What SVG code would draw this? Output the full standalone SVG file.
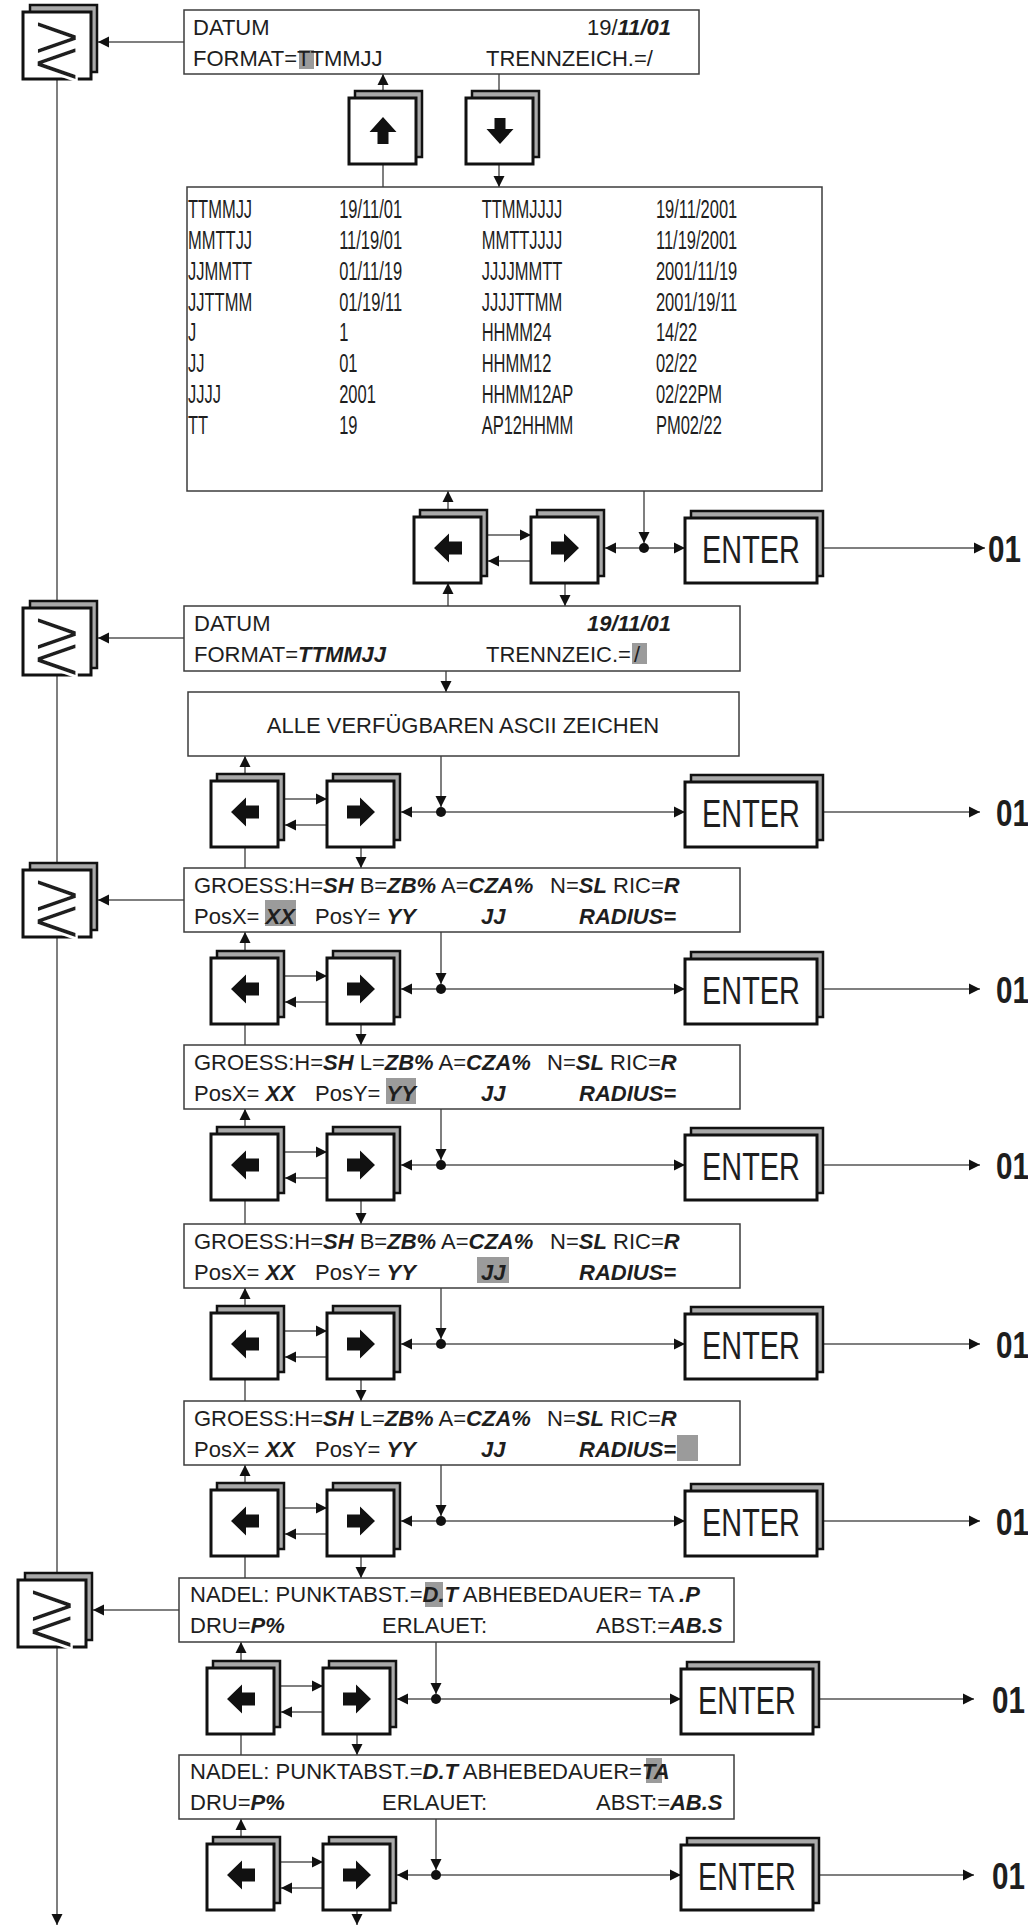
<svg xmlns="http://www.w3.org/2000/svg" width="1028" height="1925" viewBox="0 0 1028 1925">
<style>
.box{fill:#fff;stroke:#3c3c3c;stroke-width:1.5}
.bk{fill:#a9a9a9;stroke:#111;stroke-width:2.5}
.fr{fill:#fff;stroke:#111;stroke-width:3}
.t{font-family:"Liberation Sans",Arial,sans-serif;font-size:22px;fill:#1e1e1e}
.tb{font-family:"Liberation Sans",Arial,sans-serif;font-size:25px;fill:#1e1e1e}
.bi{font-weight:bold;font-style:italic}
.hl{fill:#9b9b9b}
.ico{fill:#111}
.ln{stroke:#555;stroke-width:1.5;fill:none}
.ar{marker-end:url(#a)}
.ent{font-family:"Liberation Sans",Arial,sans-serif;font-size:39px;fill:#1e1e1e}
.o1{font-family:"Liberation Sans",Arial,sans-serif;font-size:37px;font-weight:bold;fill:#1e1e1e}
.ge{font-family:"DejaVu Sans",sans-serif;font-size:56px;font-weight:200;fill:#1e1e1e;stroke:#fff;stroke-width:2}
</style>
<defs>
<marker id="a" markerUnits="userSpaceOnUse" markerWidth="12" markerHeight="12" refX="11" refY="6" orient="auto"><path d="M0,0.5 L11,6 L0,11.5 z" fill="#111"/></marker>
<g id="btn"><rect class="bk" x="6" y="-7" width="67" height="66"/><rect class="fr" x="0" y="0" width="67" height="66"/></g>
<g id="ebtn"><rect class="bk" x="6" y="-7" width="132" height="65"/><rect class="fr" x="0" y="0" width="132" height="65"/></g>
<g id="gbtn"><rect class="bk" x="7" y="-7" width="67" height="67"/><rect class="fr" x="0" y="0" width="68" height="67"/></g>
<polygon id="iL" class="ico" points="-14,0 1,-14.5 1,-6.5 14,-6.5 14,6.5 1,6.5 1,14.5"/>
<polygon id="iR" class="ico" points="14,0 -1,-14.5 -1,-6.5 -14,-6.5 -14,6.5 -1,6.5 -1,14.5"/>
<polygon id="iU" class="ico" points="0,-14 -13.5,1 -5.5,1 -5.5,13 5.5,13 5.5,1 13.5,1"/>
<polygon id="iD" class="ico" points="0,13 -13.5,-2 -5.5,-2 -5.5,-13 5.5,-13 5.5,-2 13.5,-2"/>
</defs>
<rect width="1028" height="1925" fill="#fff"/>

<g id="connectors">
<path class="ln ar" d="M184,42 H98"/>
<path class="ln ar" d="M184,638 H98"/>
<path class="ln ar" d="M184,900 H98"/>
<path class="ln ar" d="M179,1610 H93"/>
<path class="ln" d="M57,79 V601 M57,675 V863 M57,937 V1573"/>
<path class="ln ar" d="M57,1647 V1925"/>
<path class="ln ar" d="M383,91 V74"/>
<path class="ln" d="M383,164 V187 M499,74 V91"/>
<path class="ln ar" d="M499,164 V187"/>
<path class="ln ar" d="M446,671 V692"/>
<!-- row 1 -->
<path class="ln ar" d="M487,535 H531"/>
<path class="ln ar" d="M531,561 H488"/>
<path class="ln ar" d="M644,548 H605"/>
<path class="ln ar" d="M644,548 H685"/>
<path class="ln ar" d="M644,491 V543"/>
<path class="ln ar" d="M823,548 H985"/>
<path class="ln ar" d="M448,510 V491"/>
<path class="ln ar" d="M448,606 V583"/>
<path class="ln ar" d="M565,583 V606"/>
<circle cx="644" cy="548" r="5" fill="#111"/>
<!-- row 2 -->
<path class="ln ar" d="M284,799 H327"/>
<path class="ln ar" d="M327,825 H285"/>
<path class="ln ar" d="M441,812 H401"/>
<path class="ln ar" d="M441,812 H685"/>
<path class="ln ar" d="M441,756 V807"/>
<path class="ln ar" d="M823,812 H980"/>
<path class="ln ar" d="M245,774 V756"/>
<path class="ln" d="M245,847 V868"/>
<path class="ln ar" d="M361,847 V868"/>
<circle cx="441" cy="812" r="5" fill="#111"/>
<!-- row 3 -->
<path class="ln ar" d="M284,976 H327"/>
<path class="ln ar" d="M327,1002 H285"/>
<path class="ln ar" d="M441,989 H401"/>
<path class="ln ar" d="M441,989 H685"/>
<path class="ln ar" d="M441,932 V984"/>
<path class="ln ar" d="M823,989 H980"/>
<path class="ln ar" d="M245,951 V932"/>
<path class="ln" d="M245,1024 V1045"/>
<path class="ln ar" d="M361,1024 V1045"/>
<circle cx="441" cy="989" r="5" fill="#111"/>
<!-- row 4 -->
<path class="ln ar" d="M284,1152 H327"/>
<path class="ln ar" d="M327,1178 H285"/>
<path class="ln ar" d="M441,1165 H401"/>
<path class="ln ar" d="M441,1165 H685"/>
<path class="ln ar" d="M441,1109 V1160"/>
<path class="ln ar" d="M823,1165 H980"/>
<path class="ln ar" d="M245,1127 V1109"/>
<path class="ln" d="M245,1200 V1224"/>
<path class="ln ar" d="M361,1200 V1224"/>
<circle cx="441" cy="1165" r="5" fill="#111"/>
<!-- row 5 -->
<path class="ln ar" d="M284,1331 H327"/>
<path class="ln ar" d="M327,1357 H285"/>
<path class="ln ar" d="M441,1344 H401"/>
<path class="ln ar" d="M441,1344 H685"/>
<path class="ln ar" d="M441,1288 V1339"/>
<path class="ln ar" d="M823,1344 H980"/>
<path class="ln ar" d="M245,1306 V1288"/>
<path class="ln" d="M245,1379 V1401"/>
<path class="ln ar" d="M361,1379 V1401"/>
<circle cx="441" cy="1344" r="5" fill="#111"/>
<!-- row 6 -->
<path class="ln ar" d="M284,1508 H327"/>
<path class="ln ar" d="M327,1534 H285"/>
<path class="ln ar" d="M441,1521 H401"/>
<path class="ln ar" d="M441,1521 H685"/>
<path class="ln ar" d="M441,1465 V1516"/>
<path class="ln ar" d="M823,1521 H980"/>
<path class="ln ar" d="M245,1483 V1465"/>
<path class="ln" d="M245,1556 V1578"/>
<path class="ln ar" d="M361,1556 V1578"/>
<circle cx="441" cy="1521" r="5" fill="#111"/>
<!-- row 7 -->
<path class="ln ar" d="M280,1686 H323"/>
<path class="ln ar" d="M323,1712 H281"/>
<path class="ln ar" d="M436,1699 H397"/>
<path class="ln ar" d="M436,1699 H681"/>
<path class="ln ar" d="M436,1642 V1694"/>
<path class="ln ar" d="M819,1699 H974"/>
<path class="ln ar" d="M241,1661 V1642"/>
<path class="ln" d="M241,1734 V1755"/>
<path class="ln ar" d="M357,1734 V1755"/>
<circle cx="436" cy="1699" r="5" fill="#111"/>
<!-- row 8 -->
<path class="ln ar" d="M280,1862 H323"/>
<path class="ln ar" d="M323,1888 H281"/>
<path class="ln ar" d="M436,1875 H397"/>
<path class="ln ar" d="M436,1875 H681"/>
<path class="ln ar" d="M436,1819 V1870"/>
<path class="ln ar" d="M819,1875 H974"/>
<path class="ln ar" d="M241,1837 V1819"/>
<path class="ln ar" d="M357,1910 V1925"/>
<circle cx="436" cy="1875" r="5" fill="#111"/>
</g>

<!-- escape keys -->
<g id="esc1"><use href="#gbtn" x="23" y="12"/><text class="ge" transform="translate(57 46) scale(1.15 1.4)" y="20" text-anchor="middle">≷</text></g>
<g id="esc2"><use href="#gbtn" x="23" y="608"/><text class="ge" transform="translate(57 642) scale(1.15 1.4)" y="20" text-anchor="middle">≷</text></g>
<g id="esc3"><use href="#gbtn" x="23" y="870"/><text class="ge" transform="translate(57 904) scale(1.15 1.4)" y="20" text-anchor="middle">≷</text></g>
<g id="esc4"><use href="#gbtn" x="18" y="1580"/><text class="ge" transform="translate(52 1614) scale(1.15 1.4)" y="20" text-anchor="middle">≷</text></g>

<!-- DATUM 1 -->
<g id="datum1">
<rect class="box" x="184" y="10" width="515" height="64"/>
<rect class="hl" x="299" y="50" width="15" height="19"/>
<text class="t" x="193" y="35">DATUM</text>
<text class="t" x="671" y="35" text-anchor="end">19/<tspan class="bi">11/01</tspan></text>
<text class="t" x="193" y="66">FORMAT=TTMMJJ</text>
<text class="t" x="486" y="66">TRENNZEICH.=/</text>
</g>

<g id="key_up"><use href="#btn" x="349" y="98"/><use href="#iU" x="383" y="131"/></g>
<g id="key_down"><use href="#btn" x="466" y="98"/><use href="#iD" x="500" y="131"/></g>

<!-- table -->
<g id="formats">
<rect class="box" x="187" y="187" width="635" height="304"/>
<g transform="translate(188 0) scale(0.66 1)">
<text class="tb" y="218"><tspan x="0">TTMMJJ</tspan><tspan x="229">19/11/01</tspan><tspan x="445">TTMMJJJJ</tspan><tspan x="709">19/11/2001</tspan></text>
<text class="tb" y="249"><tspan x="0">MMTTJJ</tspan><tspan x="229">11/19/01</tspan><tspan x="445">MMTTJJJJ</tspan><tspan x="709">11/19/2001</tspan></text>
<text class="tb" y="280"><tspan x="0">JJMMTT</tspan><tspan x="229">01/11/19</tspan><tspan x="445">JJJJMMTT</tspan><tspan x="709">2001/11/19</tspan></text>
<text class="tb" y="311"><tspan x="0">JJTTMM</tspan><tspan x="229">01/19/11</tspan><tspan x="445">JJJJTTMM</tspan><tspan x="709">2001/19/11</tspan></text>
<text class="tb" y="341"><tspan x="0">J</tspan><tspan x="229">1</tspan><tspan x="445">HHMM24</tspan><tspan x="709">14/22</tspan></text>
<text class="tb" y="372"><tspan x="0">JJ</tspan><tspan x="229">01</tspan><tspan x="445">HHMM12</tspan><tspan x="709">02/22</tspan></text>
<text class="tb" y="403"><tspan x="0">JJJJ</tspan><tspan x="229">2001</tspan><tspan x="445">HHMM12AP</tspan><tspan x="709">02/22PM</tspan></text>
<text class="tb" y="434"><tspan x="0">TT</tspan><tspan x="229">19</tspan><tspan x="445">AP12HHMM</tspan><tspan x="709">PM02/22</tspan></text>
</g>
</g>

<!-- row 1 keys -->
<g id="r1_left"><use href="#btn" x="414" y="517"/><use href="#iL" x="448" y="548"/></g>
<g id="r1_right"><use href="#btn" x="531" y="517"/><use href="#iR" x="565" y="548"/></g>
<g id="r1_enter"><use href="#ebtn" x="685" y="518"/><text class="ent" transform="translate(751 563) scale(0.74 1)" text-anchor="middle">ENTER</text></g>
<g id="r1_out"><text class="o1" transform="translate(988 562) scale(0.8 1)">01</text></g>

<!-- DATUM 2 -->
<g id="datum2">
<rect class="box" x="184" y="606" width="556" height="65"/>
<rect class="hl" x="632" y="643" width="15" height="21"/>
<text class="t" x="194" y="631">DATUM</text>
<text class="t bi" x="671" y="631" text-anchor="end">19/11/01</text>
<text class="t" x="194" y="662">FORMAT=<tspan class="bi">TTMMJJ</tspan></text>
<text class="t" x="486" y="662">TRENNZEIC.=</text>
<text class="t" x="634" y="662">/</text>
</g>

<g id="ascii">
<rect class="box" x="188" y="692" width="551" height="64"/>
<text class="t" x="463" y="733" text-anchor="middle">ALLE VERFÜGBAREN ASCII ZEICHEN</text>
</g>

<!-- row 2..8 keys -->
<g id="r2_left"><use href="#btn" x="211" y="781"/><use href="#iL" x="245" y="812"/></g>
<g id="r2_right"><use href="#btn" x="327" y="781"/><use href="#iR" x="361" y="812"/></g>
<g id="r2_enter"><use href="#ebtn" x="685" y="782"/><text class="ent" transform="translate(751 827) scale(0.74 1)" text-anchor="middle">ENTER</text></g>
<g id="r2_out"><text class="o1" transform="translate(996 826) scale(0.8 1)">01</text></g>

<g id="groess1">
<rect class="box" x="184" y="868" width="556" height="64"/>
<rect class="hl" x="265" y="900" width="31" height="26"/>
<text class="t" x="194" y="893">GROESS:H=<tspan class="bi">SH</tspan> B=<tspan class="bi">ZB%</tspan> A=<tspan class="bi">CZA%</tspan><tspan x="550">N=</tspan><tspan class="bi">SL</tspan> RIC=<tspan class="bi">R</tspan></text>
<text class="t" x="194" y="924">PosX= <tspan class="bi">XX</tspan><tspan x="315">PosY= </tspan><tspan class="bi">YY</tspan><tspan class="bi" x="481">JJ</tspan><tspan class="bi" x="579">RADIUS=</tspan></text>
</g>

<g id="r3_left"><use href="#btn" x="211" y="958"/><use href="#iL" x="245" y="989"/></g>
<g id="r3_right"><use href="#btn" x="327" y="958"/><use href="#iR" x="361" y="989"/></g>
<g id="r3_enter"><use href="#ebtn" x="685" y="959"/><text class="ent" transform="translate(751 1004) scale(0.74 1)" text-anchor="middle">ENTER</text></g>
<g id="r3_out"><text class="o1" transform="translate(996 1003) scale(0.8 1)">01</text></g>

<g id="groess2">
<rect class="box" x="184" y="1045" width="556" height="64"/>
<rect class="hl" x="386" y="1078" width="30" height="26"/>
<text class="t" x="194" y="1070">GROESS:H=<tspan class="bi">SH</tspan> L=<tspan class="bi">ZB%</tspan> A=<tspan class="bi">CZA%</tspan><tspan x="547">N=</tspan><tspan class="bi">SL</tspan> RIC=<tspan class="bi">R</tspan></text>
<text class="t" x="194" y="1101">PosX= <tspan class="bi">XX</tspan><tspan x="315">PosY= </tspan><tspan class="bi">YY</tspan><tspan class="bi" x="481">JJ</tspan><tspan class="bi" x="579">RADIUS=</tspan></text>
</g>

<g id="r4_left"><use href="#btn" x="211" y="1134"/><use href="#iL" x="245" y="1165"/></g>
<g id="r4_right"><use href="#btn" x="327" y="1134"/><use href="#iR" x="361" y="1165"/></g>
<g id="r4_enter"><use href="#ebtn" x="685" y="1135"/><text class="ent" transform="translate(751 1180) scale(0.74 1)" text-anchor="middle">ENTER</text></g>
<g id="r4_out"><text class="o1" transform="translate(996 1179) scale(0.8 1)">01</text></g>

<g id="groess3">
<rect class="box" x="184" y="1224" width="556" height="64"/>
<rect class="hl" x="477" y="1257" width="32" height="26"/>
<text class="t" x="194" y="1249">GROESS:H=<tspan class="bi">SH</tspan> B=<tspan class="bi">ZB%</tspan> A=<tspan class="bi">CZA%</tspan><tspan x="550">N=</tspan><tspan class="bi">SL</tspan> RIC=<tspan class="bi">R</tspan></text>
<text class="t" x="194" y="1280">PosX= <tspan class="bi">XX</tspan><tspan x="315">PosY= </tspan><tspan class="bi">YY</tspan><tspan class="bi" x="481">JJ</tspan><tspan class="bi" x="579">RADIUS=</tspan></text>
</g>

<g id="r5_left"><use href="#btn" x="211" y="1313"/><use href="#iL" x="245" y="1344"/></g>
<g id="r5_right"><use href="#btn" x="327" y="1313"/><use href="#iR" x="361" y="1344"/></g>
<g id="r5_enter"><use href="#ebtn" x="685" y="1314"/><text class="ent" transform="translate(751 1359) scale(0.74 1)" text-anchor="middle">ENTER</text></g>
<g id="r5_out"><text class="o1" transform="translate(996 1358) scale(0.8 1)">01</text></g>

<g id="groess4">
<rect class="box" x="184" y="1401" width="556" height="64"/>
<rect class="hl" x="677" y="1435" width="21" height="26"/>
<text class="t" x="194" y="1426">GROESS:H=<tspan class="bi">SH</tspan> L=<tspan class="bi">ZB%</tspan> A=<tspan class="bi">CZA%</tspan><tspan x="547">N=</tspan><tspan class="bi">SL</tspan> RIC=<tspan class="bi">R</tspan></text>
<text class="t" x="194" y="1457">PosX= <tspan class="bi">XX</tspan><tspan x="315">PosY= </tspan><tspan class="bi">YY</tspan><tspan class="bi" x="481">JJ</tspan><tspan class="bi" x="579">RADIUS=</tspan></text>
</g>

<g id="r6_left"><use href="#btn" x="211" y="1490"/><use href="#iL" x="245" y="1521"/></g>
<g id="r6_right"><use href="#btn" x="327" y="1490"/><use href="#iR" x="361" y="1521"/></g>
<g id="r6_enter"><use href="#ebtn" x="685" y="1491"/><text class="ent" transform="translate(751 1536) scale(0.74 1)" text-anchor="middle">ENTER</text></g>
<g id="r6_out"><text class="o1" transform="translate(996 1535) scale(0.8 1)">01</text></g>

<g id="nadel1">
<rect class="box" x="179" y="1578" width="555" height="64"/>
<rect class="hl" x="425" y="1582" width="18" height="25"/>
<text class="t" x="190" y="1602">NADEL: PUNKTABST.=<tspan class="bi">D.T</tspan> ABHEBEDAUER= TA <tspan class="bi">.P</tspan></text>
<text class="t" x="190" y="1633">DRU=<tspan class="bi">P%</tspan><tspan x="382">ERLAUET:</tspan><tspan x="596">ABST:=</tspan><tspan class="bi">AB.S</tspan></text>
</g>

<g id="r7_left"><use href="#btn" x="207" y="1668"/><use href="#iL" x="241" y="1699"/></g>
<g id="r7_right"><use href="#btn" x="323" y="1668"/><use href="#iR" x="357" y="1699"/></g>
<g id="r7_enter"><use href="#ebtn" x="681" y="1669"/><text class="ent" transform="translate(747 1714) scale(0.74 1)" text-anchor="middle">ENTER</text></g>
<g id="r7_out"><text class="o1" transform="translate(992 1713) scale(0.8 1)">01</text></g>

<g id="nadel2">
<rect class="box" x="179" y="1755" width="555" height="64"/>
<rect class="hl" x="646" y="1758" width="16" height="25"/>
<text class="t" x="190" y="1779">NADEL: PUNKTABST.=<tspan class="bi">D.T</tspan> ABHEBEDAUER=<tspan class="bi">TA</tspan></text>
<text class="t" x="190" y="1810">DRU=<tspan class="bi">P%</tspan><tspan x="382">ERLAUET:</tspan><tspan x="596">ABST:=</tspan><tspan class="bi">AB.S</tspan></text>
</g>

<g id="r8_left"><use href="#btn" x="207" y="1844"/><use href="#iL" x="241" y="1875"/></g>
<g id="r8_right"><use href="#btn" x="323" y="1844"/><use href="#iR" x="357" y="1875"/></g>
<g id="r8_enter"><use href="#ebtn" x="681" y="1845"/><text class="ent" transform="translate(747 1890) scale(0.74 1)" text-anchor="middle">ENTER</text></g>
<g id="r8_out"><text class="o1" transform="translate(992 1889) scale(0.8 1)">01</text></g>
</svg>
